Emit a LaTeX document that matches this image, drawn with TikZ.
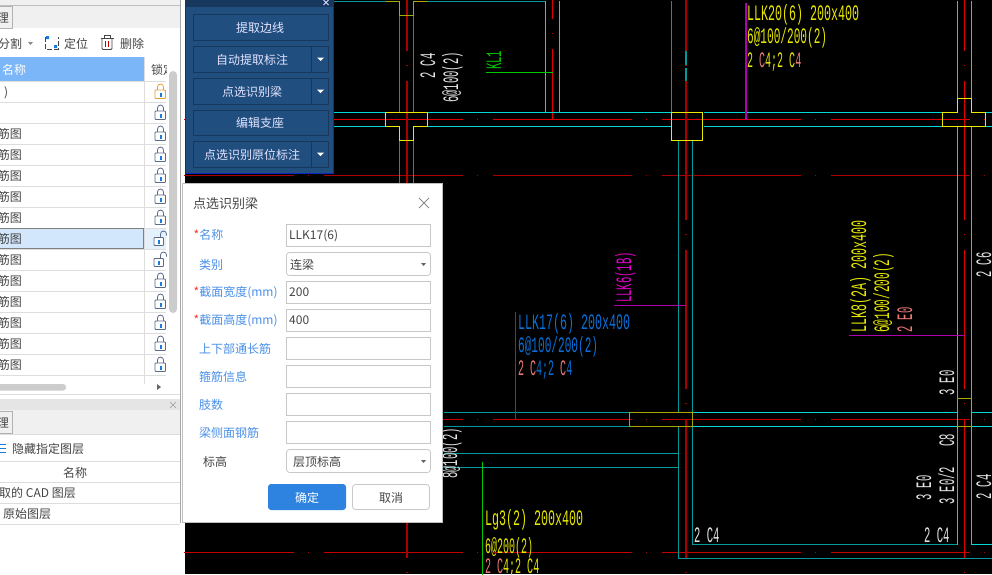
\documentclass[tikz,border=0pt]{standalone}
\usepackage{fontspec}
\setmainfont{Noto Sans CJK SC}
\newfontfamily\cadfont{Liberation Mono}
\definecolor{cadteal}{HTML}{009A9A}
\definecolor{cadcyan}{HTML}{00D8D8}
\definecolor{cadred}{HTML}{E00000}
\definecolor{caddark}{HTML}{A80000}
\definecolor{cadyellow}{HTML}{E8E800}
\definecolor{cadolive}{HTML}{A8A800}
\definecolor{cadgreen}{HTML}{00C800}
\definecolor{cadpurple}{HTML}{B000B0}
\definecolor{cadmagenta}{HTML}{E000C8}
\definecolor{cadblue}{HTML}{0A70D8}
\definecolor{cadsalmon}{HTML}{F07878}
\definecolor{cadwhite}{HTML}{E4E4E4}
\definecolor{rowline}{HTML}{DDDDDD}
\definecolor{panelblue}{HTML}{1F4E7F}
\definecolor{paneledge}{HTML}{17385C}
\definecolor{fieldline}{HTML}{C8C8C8}
\definecolor{labelblue}{HTML}{4A90E8}
\definecolor{inktext}{HTML}{444444}
\definecolor{headblue}{HTML}{7AB6F8}
\definecolor{selrow}{HTML}{D3E7FC}
\definecolor{okblue}{HTML}{2F83E0}
\definecolor{lockblue}{HTML}{5A6A8A}
\definecolor{lockmark}{HTML}{1A7AE0}
\definecolor{lockorange}{HTML}{E8A030}
\tikzset{
  rednet/.style={dash pattern=on 139pt off 14.5pt on 1pt off 14.5pt},
  cadtxt/.style={font=\cadfont\fontsize{22}{22}\selectfont, inner sep=0pt, anchor=base west},
  cadwide/.style={cadtxt, xscale=.53},
  cadmid/.style={cadtxt, xscale=.505},
  cadnarrow/.style={cadtxt, xscale=.48},
  uitxt/.style={font=\fontsize{12}{12}\selectfont, inner sep=0pt, text=inktext, yshift=-.7pt},
  fieldlabel/.style={uitxt, anchor=west, text=labelblue},
  fieldbox/.style={draw=fieldline, fill=white, line width=.8pt},
  panelbtn/.style={draw=paneledge, fill=panelblue, line width=.8pt},
  pics/lockicon/.style={code={
    \draw[#1, line width=.8pt] (-3,-1.5) -- (-3,-4.5) arc (180:360:3) -- (3,-1.5);
    \draw[#1, line width=.8pt, fill=white, rounded corners=.8pt] (-5.5,-1.5) rectangle (5,7);
    \fill[lockmark] (-1,1) rectangle (1,5);
  }},
  pics/lockopen/.style={code={
    \draw[#1, line width=.8pt] (0,-1.5) -- (0,-4.5) arc (180:360:3) -- (6,-3);
    \draw[#1, line width=.8pt, fill=white, rounded corners=.8pt] (-6.5,-1) rectangle (3,7);
    \fill[lockmark] (-2.5,1) rectangle (-.5,5);
  }}
}
\begin{document}
\begin{tikzpicture}[x=1pt, y=-1pt]
  \clip (0,0) rectangle (992,574);
  \fill[white] (0,0) rectangle (992,574);
  % drawing area
  \fill[black] (185,0) rectangle (992,574);
  \begin{scope}[shift={(.5,.5)}]
  \draw[caddark, line width=1pt, rednet] (154,175) -- (992,175);
  \draw[cadred, line width=1pt, rednet] (154,119) -- (992,119);
  \draw[caddark!50!cadred, line width=1pt, rednet] (154,419) -- (992,419);
  \draw[caddark!50!cadred, line width=1pt, rednet] (154,552) -- (992,552);
  \draw[caddark, line width=2pt, rednet] (406,-89) -- (406,574);
  \draw[caddark, line width=2pt, rednet] (685,-89) -- (685,574);
  \draw[cadred, line width=1pt, rednet] (964,-89) -- (964,574);
  \draw[cadred, line width=1pt, rednet] (552,-121) -- (552,119);
  % beam outlines
  \draw[cadteal, line width=1.5pt] (333,1) -- (385,1) (427,1) -- (545,1);
  \draw[cadteal, line width=1.5pt] (399,15) -- (399,112) (413,15) -- (413,112);
  \draw[cadteal, line width=1.5pt] (399,140) -- (399,183) (413,140) -- (413,183);
  \draw[cadteal, line width=1pt] (671,0) -- (671,112);
  \draw[cadteal, line width=2pt] (685,50) -- (685,64) (685,67) -- (685,80);
  \draw[cadteal, line width=1pt] (678,140) -- (678,412) (692,140) -- (692,412);
  \draw[cadteal, line width=1pt] (678,426) -- (678,558) -- (992,558);
  \draw[cadteal, line width=1pt] (692,426) -- (692,544) -- (957,544);
  \draw[cadteal, line width=1pt] (443,412) -- (629,412) (443,426) -- (629,426);
  \draw[cadteal, line width=1pt] (443,453) -- (678,453) (443,467) -- (678,467);
  \draw[cadcyan, line width=1pt] (545,0) -- (545,112) (559,0) -- (559,112);
  \draw[cadcyan, line width=1pt] (333,112) -- (385,112) (427,112) -- (671,112) (703,112) -- (942,112) (985,112) -- (992,112);
  \draw[cadcyan, line width=1pt] (333,126) -- (385,126) (427,126) -- (671,126) (703,126) -- (942,126) (985,126) -- (992,126);
  \draw[cadcyan, line width=1pt] (692,412) -- (957,412) (971,412) -- (992,412);
  \draw[cadcyan, line width=1pt] (692,426) -- (957,426) (971,426) -- (992,426);
  \draw[cadcyan, line width=1pt] (957,0) -- (957,98) (971,0) -- (971,98);
  \draw[cadcyan, line width=1pt] (957,126) -- (957,398) (971,126) -- (971,398);
  \draw[cadcyan, line width=1pt] (957,426) -- (957,544) (971,426) -- (971,544) -- (992,544);
  % columns
  \draw[cadolive, line width=1.5pt] (385,1) -- (399,1) -- (399,15) -- (413,15) -- (413,1) -- (427,1);
  \draw[cadyellow, line width=1pt] (385,112) -- (427,112) -- (427,126) -- (413,126) -- (413,140) -- (399,140) -- (399,126) -- (385,126) -- cycle;
  \draw[cadyellow, line width=1pt] (671,112) rectangle (702,140);
  \draw[cadyellow, line width=1pt] (942,112) -- (957,112) -- (957,98) -- (971,98) -- (971,112) -- (985,112) -- (985,126) -- (942,126) -- cycle;
  \draw[cadolive, line width=1pt] (629,412) rectangle (692,426);
  \draw[cadolive, line width=1pt] (957,398) rectangle (971,426);
  % leaders
  \draw[cadpurple, line width=2pt] (745,2) -- (745,119);
  \draw[cadpurple, line width=1pt] (515,311) -- (515,419);
  \draw[cadpurple, line width=1pt] (613,305) -- (685,305);
  \draw[cadpurple, line width=1pt] (848,335) -- (964,335);
  \draw[cadgreen, line width=1pt] (485,72) -- (552,72);
  \draw[cadgreen, line width=1pt] (482,461) -- (482,574);
  \end{scope}
  % beam marks
  \node[cadwide, text=cadyellow] (llk20a) at (747,20) {LLK20(6) 200x400};
  \node[cadmid, text=cadyellow] (llk20b) at (747,43) {6@100/200(2)};
  \node[cadnarrow, text=cadyellow, xscale=.95] (llk20c) at (747,67) {2 \textcolor{cadsalmon}{C}4;2  C\textcolor{cadsalmon}{4}};
  \node[cadwide, text=cadblue] (llk17a) at (518,329) {LLK17(6) 200x400};
  \node[cadmid, text=cadblue] (llk17b) at (518,352) {6@100/200(2)};
  \node[cadnarrow, text=cadblue, xscale=.95] (llk17c) at (518,375) {\textcolor{cadsalmon}{2 C}4;2  \textcolor{cadsalmon}{C}4};
  \node[cadwide, text=cadyellow] (lg3a) at (485,525) {Lg3(2) 200x400};
  \node[cadmid, text=cadyellow, xscale=.9] (lg3b) at (485,553) {6@200(2)};
  \node[cadnarrow, text=cadyellow, xscale=.95] (lg3c) at (485,573) {\textcolor{cadsalmon}{2 C}4;2  C4};
  \node[rotate=90, cadnarrow, text=cadgreen] (kl1) at (501,70) {KL1};
  \node[rotate=90, cadnarrow, text=cadwhite] (k2c4) at (435,79) {2 C4};
  \node[rotate=90, cadnarrow, text=cadwhite] (k6at) at (458,103) {6@100(2)};
  \node[rotate=90, cadnarrow, text=cadmagenta] (llk6) at (631,303) {LLK6(1B)};
  \node[rotate=90, cadwide, text=cadyellow] (llk8a) at (866,333) {LLK8(2A) 200x400};
  \node[rotate=90, cadmid, text=cadyellow] (llk8b) at (889,333) {6@100/200(2)};
  \node[rotate=90, cadnarrow, text=cadsalmon] (llk8c) at (912,333) {2 E0};
  \node[rotate=90, cadnarrow, text=cadwhite] (r2c6) at (991,278) {2 C6};
  \node[rotate=90, cadnarrow, text=cadwhite] (r3e0) at (954,396) {3 E0};
  \node[rotate=90, cadnarrow, text=cadwhite] (rc8) at (954,447) {C8};
  \node[rotate=90, cadnarrow, text=cadwhite] (r3e2) at (954,505) {3 E0/2};
  \node[rotate=90, cadnarrow, text=cadwhite] (s3e0) at (931,501) {3 E0};
  \node[rotate=90, cadnarrow, text=cadwhite] (r2c4) at (991,500) {2 C4};
  \node[rotate=90, cadnarrow, text=cadwhite] (k8at) at (457,479) {8@100(2)};
  \node[cadnarrow, text=cadwhite] (b2c4) at (924,542) {2 C4};
  \node[cadnarrow, text=cadwhite] (c2c4) at (694,542) {2 C4};
  % left side, upper list
  \fill[white] (0,0) rectangle (184,574);
  \fill[black!6] (0,0) rectangle (180,28);
  \draw[black!25] (0,5) -- (180,5);
  \draw[black!30, fill=black!6] (-2,6) rectangle (12,28);
  \node[uitxt] (tabtop) at (3,17) {理};
  \node[uitxt, anchor=west] (split) at (-2,43) {分割};
  \fill[black!45] (28,42) -- (33,42) -- (30.5,45) -- cycle;
  \draw[inktext, line width=.8pt, dash pattern=on 5pt off 2pt] (45,37) -- (45,49) -- (58,49) -- (58,37);
  \fill[lockmark] (46,36) rectangle (49,39) (54,45) rectangle (57,48);
  \node[uitxt, anchor=west] (locate) at (64,43) {定位};
  \draw[inktext, line width=.8pt, rounded corners=1pt] (102,38) -- (102,49.5) -- (112,49.5) -- (112,38);
  \draw[inktext, line width=.8pt] (100.5,38) -- (113.5,38) (104,38) -- (104,35.5) -- (110,35.5) -- (110,38);
  \draw[red!80!black, line width=.8pt] (105.5,41) -- (105.5,47) (108.5,41) -- (108.5,47);
  \node[uitxt, anchor=west] (remove) at (120,43) {删除};
  \fill[headblue] (0,57) rectangle (144,81);
  \node[uitxt, anchor=west, text=white] (head) at (2,69) {名称};
  \fill[selrow!60!white] (145,228) rectangle (166,249);
  \fill[selrow] (0,228) rectangle (144,249);
  \foreach \i in {0,...,14}
    \draw[rowline, line width=.8pt] (0,{81.5+21*\i}) -- (166,{81.5+21*\i});
  \draw[rowline, line width=.8pt] (144,57) -- (144,384);
  \draw[black!50, line width=1.6pt] (0,228.5) -- (143.5,228.5) -- (143.5,248.5) -- (0,248.5);
  \foreach \r in {1,2,3,4,5,6,9,10,11,12,13}
    \pic at (160.5,{91.5+21*\r}) {lockicon=lockblue};
  \foreach \r in {7,8}
    \pic at (160.5,{91.5+21*\r}) {lockopen=lockblue};
  \pic at (160.5,91.5) {lockicon=lockorange};
  \node[uitxt] (lockhead) at (163,69) {锁定};
  \fill[white] (166.5,57) rectangle (180,384);
  \node[uitxt, anchor=west] (rowzero) at (4,92) {)};
  \foreach \r in {2,...,13}
    \node[uitxt, anchor=east] (row\r) at (22,{91.5+21*\r}) {筋图};
  \fill[black!20, rounded corners=4pt] (169,71) rectangle (177,313);
  \fill[black!20, rounded corners=3pt] (-6,384) rectangle (66,390.5);
  \fill[black!60] (157,384) -- (161,387) -- (157,390) -- cycle;
  \draw[rowline, line width=.8pt] (0,394) -- (180,394);
  % left side, layer list
  \fill[black!10] (0,399) rectangle (180,410);
  \draw[black!40, line width=.6pt] (170,402) -- (176,408) (170,408) -- (176,402);
  \fill[black!6] (0,410) rectangle (180,434);
  \draw[black!30, fill=black!6] (-2,411) rectangle (12,433);
  \node[uitxt] (tabbot) at (3,422) {理};
  \draw[rowline, line width=.8pt] (0,434) -- (180,434) (0,461) -- (180,461) (0,482) -- (180,482) (0,503) -- (180,503) (0,524) -- (180,524);
  \draw[lockmark, line width=.8pt] (0,444) -- (6,444) (0,448) -- (6,448) (0,452) -- (6,452);
  \node[uitxt, anchor=west] (hidelayer) at (12,448) {隐藏指定图层};
  \node[uitxt] (layerhead) at (75,472.5) {名称};
  \node[uitxt, anchor=west] (layercad) at (-1,492.5) {取的 CAD 图层};
  \node[uitxt, anchor=west] (layerraw) at (3,513.5) {原始图层};
  \draw[black!35, line width=1.6pt] (180.5,0) -- (180.5,523);
  % tool panel
  \fill[panelblue, draw=blue!50!panelblue] (185.5,-2) rectangle (333,173);
  \fill[paneledge] (186,0) rectangle (332.5,7);
  \draw[white!85!blue, line width=.9pt] (323.5,0) -- (328.5,5) (323.5,5) -- (328.5,0);
  \draw[panelbtn] (193,14) rectangle (328,40);
  \node[uitxt, text=white!90!blue] (btnedge) at (260,27.5) {提取边线};
  \draw[panelbtn] (193,46) rectangle (328,72);
  \draw[paneledge, line width=.8pt] (311.5,46) -- (311.5,72);
  \node[uitxt, text=white!90!blue] (btnauto) at (252,59.5) {自动提取标注};
  \draw[panelbtn] (193,78) rectangle (328,104);
  \draw[paneledge, line width=.8pt] (311.5,78) -- (311.5,104);
  \node[uitxt, text=white!90!blue] (btnpick) at (252,91.5) {点选识别梁};
  \draw[panelbtn] (193,110) rectangle (328,135);
  \node[uitxt, text=white!90!blue] (btnseat) at (260,122.5) {编辑支座};
  \draw[panelbtn] (193,141) rectangle (328,167);
  \draw[paneledge, line width=.8pt] (311.5,141) -- (311.5,167);
  \node[uitxt, text=white!90!blue] (btnorig) at (252,154.5) {点选识别原位标注};
  \foreach \y in {59,91,154}
    \fill[white] (317,\y-1.5) -- (324,\y-1.5) -- (320.5,\y+2) -- cycle;
  % dialog
  \draw[black!25, fill=white] (182,183.5) rectangle (442,522);
  \node[uitxt, anchor=west, font=\fontsize{13}{13}\selectfont] (dlgtitle) at (193,203) {点选识别梁};
  \draw[black!45, line width=.8pt] (419,198) -- (429,208) (419,208) -- (429,198);
  \foreach \ytop in {224,281,309,337,365,393,421}
    \draw[fieldbox] (286.5,\ytop) rectangle (430.5,\ytop+22);
  \draw[fieldbox, rounded corners=3pt] (286.5,252.5) rectangle (430.5,275.5);
  \draw[fieldbox, rounded corners=3pt] (286.5,449.5) rectangle (430.5,472.5);
  \node[fieldlabel] (lblname) at (193.5,234) {\textcolor{red!80}{*}名称};
  \node[fieldlabel] (lblkind) at (199,264) {类别};
  \node[fieldlabel] (lblwidth) at (193.5,292) {\textcolor{red!80}{*}截面宽度(mm)};
  \node[fieldlabel] (lblheight) at (193.5,320) {\textcolor{red!80}{*}截面高度(mm)};
  \node[fieldlabel] (lbltop) at (199,348) {上下部通长筋};
  \node[fieldlabel] (lblstir) at (199,376) {箍筋信息};
  \node[fieldlabel] (lblleg) at (199,404) {肢数};
  \node[fieldlabel] (lblside) at (199,432) {梁侧面钢筋};
  \node[uitxt, anchor=west] (lbllevel) at (203,461) {标高};
  \node[uitxt, anchor=west] (valname) at (289,235) {LLK17(6)};
  \node[uitxt, anchor=west] (valkind) at (290,264.5) {连梁};
  \node[uitxt, anchor=west] (valwidth) at (289,292) {200};
  \node[uitxt, anchor=west] (valheight) at (289,320) {400};
  \node[uitxt, anchor=west] (vallevel) at (293,461.5) {层顶标高};
  \fill[black!60] (421,263) -- (426,263) -- (423.5,266) -- cycle;
  \fill[black!60] (421,460) -- (426,460) -- (423.5,463) -- cycle;
  \fill[okblue, rounded corners=3pt] (268,484) rectangle (346,510);
  \node[uitxt, text=white] (btnok) at (307,497) {确定};
  \draw[fieldbox, rounded corners=3pt] (352.5,484.5) rectangle (429.5,509.5);
  \node[uitxt] (btncancel) at (391,497) {取消};
\end{tikzpicture}
\end{document}
